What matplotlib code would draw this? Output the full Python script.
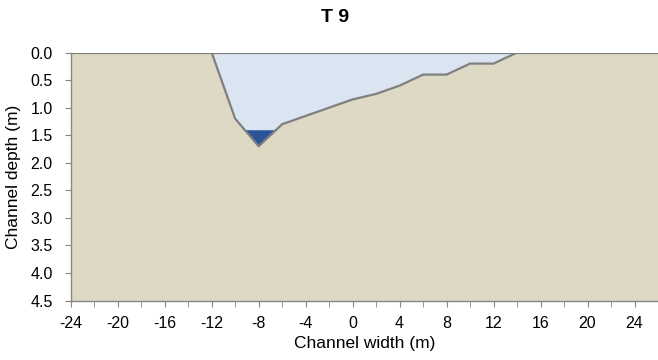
import numpy as np
import matplotlib.pyplot as plt

plt.rcParams['font.family'] = ['Liberation Sans', 'DejaVu Sans']
plt.rcParams['axes.unicode_minus'] = False

# channel cross-section, T 9
ground_x = [-24, -12, -10, -8, -6, -4, -2, 0, 2, 4, 6, 8, 10, 12, 14, 26]
ground_depth = [0.0, 0.0, 1.2, 1.7, 1.3, 1.15, 1.0, 0.85, 0.75, 0.6, 0.4, 0.4, 0.2, 0.2, 0.0, 0.0]
water_depth = 1.4
xticks = list(range(-24, 25, 4))
yticks = [0.0, 0.5, 1.0, 1.5, 2.0, 2.5, 3.0, 3.5, 4.0, 4.5]

gx = np.array(ground_x, dtype=float)
gd = np.array(ground_depth, dtype=float)

fig = plt.figure(figsize=(6.58, 3.6), dpi=100)
ax = fig.add_axes([0.1075, 0.165, 0.8925, 0.689])

bottom = yticks[-1]
ax.fill_between(gx, gd, bottom, color='#ddd9c4', lw=0, zorder=1)
ax.fill_between(gx, 0, gd, color='#dbe5f1', lw=0, zorder=1)
ax.fill_between(gx, water_depth, gd, where=gd >= water_depth, interpolate=True,
                color='#2b5597', lw=0, zorder=2)
ax.plot(gx, gd, color='#7f7f7f', lw=1.6, zorder=3)
ax.axhline(0, color='#7f7f7f', lw=1.6, zorder=3)

ax.set_xlim(-24, 26)
ax.set_ylim(bottom, 0)
ax.set_xticks(xticks)
ax.set_xticks(list(range(-22, 26, 4)), minor=True)
ax.set_yticks(yticks)
ax.set_yticklabels([f'{v:.1f}' for v in yticks])

for s in ['top', 'right']:
    ax.spines[s].set_visible(False)
for s in ['left', 'bottom']:
    ax.spines[s].set_color('#868686')
    ax.spines[s].set_linewidth(1.0)
ax.tick_params(which='both', direction='out', length=4, color='#868686', labelsize=11.5)
ax.tick_params(axis='x', pad=7)
ax.tick_params(axis='y', pad=9)

ax.set_xlabel('Channel width (m)', fontsize=12.5, labelpad=4)
ax.set_ylabel('Channel depth (m)', fontsize=12.5, labelpad=7)
fig.text(0.509, 0.95, 'T 9', ha='center', va='center', fontsize=14, fontweight='bold')

fig.savefig('out.png', dpi=100)
